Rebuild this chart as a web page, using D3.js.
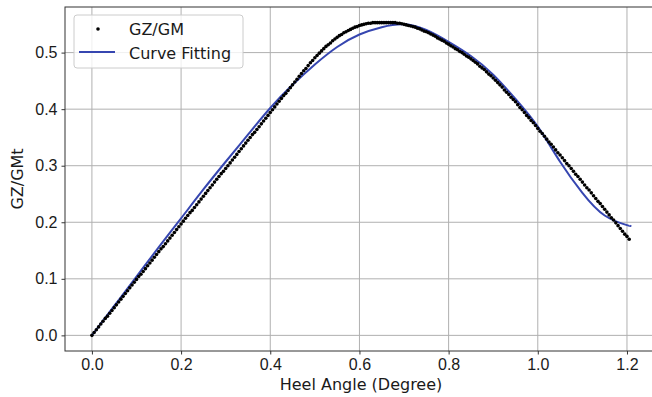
<!DOCTYPE html>
<meta charset="utf-8">
<style>
body { margin: 0; background: #fff; }
svg { display: block; font-family: "DejaVu Sans", sans-serif; }
.tick text { font-size: 16px; fill: #1a1a1a; }
.tick line { stroke: #333; }
.grid line { stroke: #b0b0b0; stroke-width: 1; }
.fit { fill: none; stroke: #3646b0; stroke-width: 2px; }
.dot { fill: #000; }
</style>
<svg width="652" height="397"></svg>
<script src="https://d3js.org/d3.v7.min.js"></script>
<script>

// GZ/GM measured points, heel angle step 0.005 from 0
var angleStep = 0.005;
var gzgm = [
  0.000,0.005,0.010,0.015,0.020,0.025,0.030,0.034,0.039,0.044,
  0.049,0.054,0.059,0.064,0.069,0.074,0.079,0.084,0.089,0.094,
  0.099,0.104,0.108,0.113,0.118,0.123,0.128,0.133,0.138,0.143,
  0.148,0.153,0.157,0.162,0.167,0.172,0.177,0.182,0.187,0.192,
  0.197,0.202,0.207,0.212,0.217,0.221,0.226,0.231,0.236,0.241,
  0.246,0.251,0.256,0.261,0.266,0.271,0.276,0.281,0.286,0.290,
  0.295,0.300,0.305,0.310,0.315,0.320,0.325,0.330,0.335,0.340,
  0.345,0.350,0.355,0.359,0.364,0.369,0.374,0.379,0.384,0.389,
  0.394,0.399,0.404,0.409,0.414,0.419,0.424,0.428,0.433,0.438,
  0.443,0.448,0.453,0.458,0.463,0.468,0.472,0.477,0.482,0.486,
  0.491,0.495,0.499,0.503,0.507,0.511,0.514,0.517,0.521,0.524,
  0.527,0.530,0.532,0.535,0.537,0.539,0.541,0.543,0.545,0.546,
  0.548,0.549,0.550,0.551,0.552,0.552,0.553,0.553,0.553,0.553,
  0.553,0.553,0.553,0.553,0.553,0.553,0.553,0.552,0.552,0.551,
  0.550,0.549,0.548,0.547,0.546,0.545,0.543,0.542,0.540,0.538,
  0.537,0.535,0.533,0.531,0.529,0.526,0.524,0.522,0.520,0.517,
  0.515,0.512,0.510,0.507,0.505,0.502,0.500,0.497,0.494,0.492,
  0.489,0.486,0.483,0.480,0.476,0.473,0.470,0.466,0.462,0.459,
  0.455,0.451,0.447,0.443,0.439,0.434,0.430,0.426,0.421,0.417,
  0.413,0.408,0.403,0.399,0.394,0.389,0.385,0.380,0.376,0.371,
  0.366,0.361,0.357,0.352,0.347,0.342,0.338,0.333,0.328,0.323,
  0.319,0.314,0.309,0.304,0.300,0.295,0.290,0.285,0.281,0.276,
  0.271,0.266,0.261,0.257,0.252,0.247,0.242,0.237,0.233,0.228,
  0.223,0.218,0.213,0.208,0.204,0.199,0.194,0.189,0.184,0.179,
  0.175,0.170
];

// curve fitting line
var fitAngle = [0.00,0.05,0.10,0.15,0.20,0.25,0.30,0.35,0.40,0.45,0.50,0.55,0.60,
                0.65,0.70,0.75,0.80,0.85,0.90,0.95,1.00,1.05,1.10,1.15,1.20,1.207];
var fitValue = [0.000,0.052,0.104,0.156,0.207,0.258,0.307,0.355,0.402,0.443,0.479,0.510,0.532,
                0.545,0.550,0.540,0.519,0.494,0.461,0.418,0.369,0.307,0.252,0.212,0.195,0.194];

var xTicks = [0.0, 0.2, 0.4, 0.6, 0.8, 1.0, 1.2];
var yTicks = [0.0, 0.1, 0.2, 0.3, 0.4, 0.5];

var svg = d3.select("svg"),
    margin = {top: 7, left: 65},
    width = 592,
    height = 344,
    g = svg.append("g").attr("transform", "translate(" + margin.left + "," + margin.top + ")");

var points = gzgm.map(function(v, i) { return {a: i * angleStep, v: v}; });
var fit = fitAngle.map(function(a, i) { return {a: a, v: fitValue[i]}; });

var xMax = d3.max(fitAngle.concat([(gzgm.length - 1) * angleStep])),
    yMax = d3.max(gzgm.concat(fitValue)),
    xPad = xMax * 0.05, yPad = yMax * 0.05;

var x = d3.scaleLinear().domain([-xPad, xMax + xPad]).range([0, width]);
var y = d3.scaleLinear().domain([-yPad, yMax + yPad]).range([height, 0]);

// grid
g.append("g").attr("class", "grid")
  .selectAll("line").data(xTicks).enter().append("line")
    .attr("x1", function(d) { return x(d); }).attr("x2", function(d) { return x(d); })
    .attr("y1", 0).attr("y2", height);
g.append("g").attr("class", "grid")
  .selectAll("line").data(yTicks).enter().append("line")
    .attr("y1", function(d) { return y(d); }).attr("y2", function(d) { return y(d); })
    .attr("x1", 0).attr("x2", width);

// axes
g.append("g")
    .attr("transform", "translate(0," + height + ")")
    .call(d3.axisBottom(x).tickValues(xTicks).tickFormat(d3.format(".1f")).tickSize(3.5).tickPadding(4))
    .call(function(a) { a.select(".domain").remove(); });
g.append("g")
    .call(d3.axisLeft(y).tickValues(yTicks).tickFormat(d3.format(".1f")).tickSize(3.5).tickPadding(4))
    .call(function(a) { a.select(".domain").remove(); });

// spines
g.append("rect")
    .attr("width", width).attr("height", height)
    .attr("fill", "none").attr("stroke", "#333").attr("stroke-width", 1);

// data
g.append("path")
    .datum(fit)
    .attr("class", "fit")
    .attr("d", d3.line().curve(d3.curveNatural)
      .x(function(d) { return x(d.a); })
      .y(function(d) { return y(d.v); }));

g.selectAll(".dot").data(points).enter().append("circle")
    .attr("class", "dot")
    .attr("cx", function(d) { return x(d.a); })
    .attr("cy", function(d) { return y(d.v); })
    .attr("r", 1.8);

// labels
svg.append("text")
    .attr("x", margin.left + width / 2).attr("y", 390)
    .attr("text-anchor", "middle").attr("font-size", 16).attr("fill", "#1a1a1a")
    .text("Heel Angle (Degree)");
svg.append("text")
    .attr("transform", "translate(23," + (margin.top + height / 2) + ") rotate(-90)")
    .attr("text-anchor", "middle").attr("font-size", 16).attr("fill", "#1a1a1a")
    .text("GZ/GMt");

// legend
var lg = svg.append("g").attr("transform", "translate(74,15)");
lg.append("rect")
    .attr("width", 169).attr("height", 53).attr("rx", 3)
    .attr("fill", "#fff").attr("fill-opacity", 0.8)
    .attr("stroke", "#ccc");
lg.append("circle").attr("cx", 24).attr("cy", 14).attr("r", 1.8).attr("fill", "#000");
lg.append("line").attr("x1", 5).attr("x2", 41).attr("y1", 37).attr("y2", 37)
    .attr("stroke", "#3646b0").attr("stroke-width", 2);
lg.append("text").attr("x", 55).attr("y", 20).attr("font-size", 16).attr("fill", "#1a1a1a").text("GZ/GM");
lg.append("text").attr("x", 55).attr("y", 44).attr("font-size", 16).attr("fill", "#1a1a1a").text("Curve Fitting");

</script>
